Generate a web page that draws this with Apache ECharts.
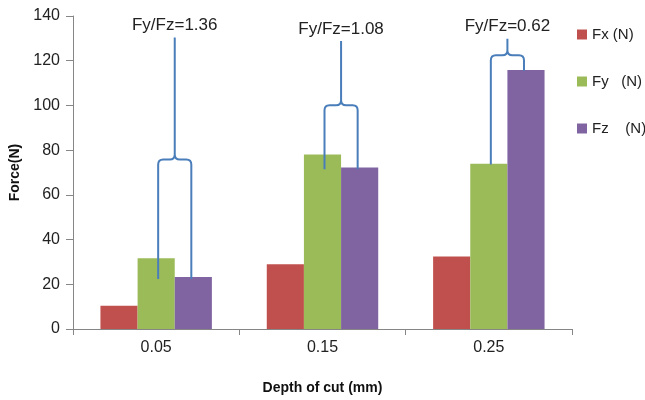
<!DOCTYPE html>
<html>
<head>
<meta charset="utf-8">
<script src="https://cdn.jsdelivr.net/npm/echarts@6/dist/echarts.min.js"></script>
<style>html,body{margin:0;padding:0;background:#fff}#c{width:645px;height:400px}</style>
</head>
<body>
<div id="c"></div>
<script>
const categories = ['0.05', '0.15', '0.25'];
const fx = [10.4, 29.0, 32.4];
const fy = [31.7, 78.0, 73.9];
const fz = [23.3, 72.2, 115.8];
const ratioLabels = ['Fy/Fz=1.36', 'Fy/Fz=1.08', 'Fy/Fz=0.62'];
// brace annotation levels (force units): left leg foot, right leg foot, bar of brace, peak
const braceLeftFoot = [22.4, 71.4, 73.6];
const braceRightFoot = [22.4, 71.4, 115.5];
const braceMid = [75.8, 100.1, 122.5];
const bracePeak = [130.4, 128.8, 129.8];
const yTicks = {min: 0, max: 140, interval: 20};

const braceData = categories.map((c, i) => [i, braceLeftFoot[i], braceRightFoot[i], braceMid[i], bracePeak[i], ratioLabels[i]]);

const chart = echarts.init(document.getElementById('c'), null, {renderer: 'canvas'});
const gapPct = 0.33;
const axisColor = '#868686';
const font = '"Liberation Sans", Arial, sans-serif';

chart.setOption({
  animation: false,
  backgroundColor: '#fff',
  grid: {left: 67, right: 73, top: 16, bottom: 66.5, containLabel: false},
  legend: {
    orient: 'vertical', left: 572, top: 22, itemWidth: 10, itemHeight: 10, itemGap: 32,
    icon: 'rect',
    data: ['Fx (N)', 'Fy   (N)', 'Fz    (N)'],
    textStyle: {fontFamily: font, fontSize: 15, color: '#222'}
  },
  xAxis: {
    type: 'category', data: categories,
    name: 'Depth of cut (mm)', nameLocation: 'middle', nameGap: 52,
    nameTextStyle: {fontFamily: font, fontSize: 14, fontWeight: 'bold', color: '#111'},
    axisLine: {show: true, lineStyle: {color: axisColor, width: 1}},
    axisTick: {show: true, length: 6, lineStyle: {color: axisColor}},
    axisLabel: {fontFamily: font, fontSize: 16, color: '#222', margin: 11}
  },
  yAxis: {
    type: 'value', min: yTicks.min, max: yTicks.max, interval: yTicks.interval,
    name: 'Force(N)', nameLocation: 'middle', nameGap: 51, nameRotate: 90,
    nameTextStyle: {fontFamily: font, fontSize: 14, fontWeight: 'bold', color: '#111'},
    axisLine: {show: true, lineStyle: {color: axisColor, width: 1}},
    axisTick: {show: true, length: 7, lineStyle: {color: axisColor}},
    splitLine: {show: false},
    axisLabel: {fontFamily: font, fontSize: 16, color: '#222', margin: 13}
  },
  series: [
    {name: 'Fx (N)', type: 'bar', data: fx, barGap: '0%', barCategoryGap: (gapPct * 100) + '%', itemStyle: {color: '#C0504D'}},
    {name: 'Fy   (N)', type: 'bar', data: fy, barGap: '0%', barCategoryGap: (gapPct * 100) + '%', itemStyle: {color: '#9BBB59'}},
    {name: 'Fz    (N)', type: 'bar', data: fz, barGap: '0%', barCategoryGap: (gapPct * 100) + '%', itemStyle: {color: '#8064A2'}},
    {
      type: 'custom', name: 'braces', silent: true, z: 5,
      data: braceData,
      encode: {x: 0, y: 1},
      renderItem: function (params, api) {
        const idx = api.value(0);
        const band = api.size([1, 0])[0];
        const barW = band * (1 - gapPct) / 3;
        const cx = api.coord([idx, 0])[0];
        const x1 = cx + 2;
        const x2 = cx + barW - 2;
        const xc = (x1 + x2) / 2;
        const yl = api.coord([idx, api.value(1)])[1];
        const yr = api.coord([idx, api.value(2)])[1];
        const ym = api.coord([idx, api.value(3)])[1];
        const yp = api.coord([idx, api.value(4)])[1];
        const r = 5;
        const d = [
          'M', x1, yl, 'L', x1, ym + r, 'Q', x1, ym, x1 + r, ym,
          'L', xc - r, ym, 'Q', xc, ym, xc, ym - r, 'L', xc, yp,
          'M', xc, ym - r, 'Q', xc, ym, xc + r, ym,
          'L', x2 - r, ym, 'Q', x2, ym, x2, ym + r, 'L', x2, yr
        ].join(' ');
        return {
          type: 'group',
          children: [
            {type: 'path', shape: {pathData: d}, style: {stroke: '#4A7EBB', lineWidth: 2, fill: null}},
            {type: 'text', x: xc, y: yp - 12, style: {text: api.value(5), fontFamily: font, fontSize: 17, fill: '#222', align: 'center', verticalAlign: 'middle'}}
          ]
        };
      }
    }
  ]
});
</script>
</body>
</html>
